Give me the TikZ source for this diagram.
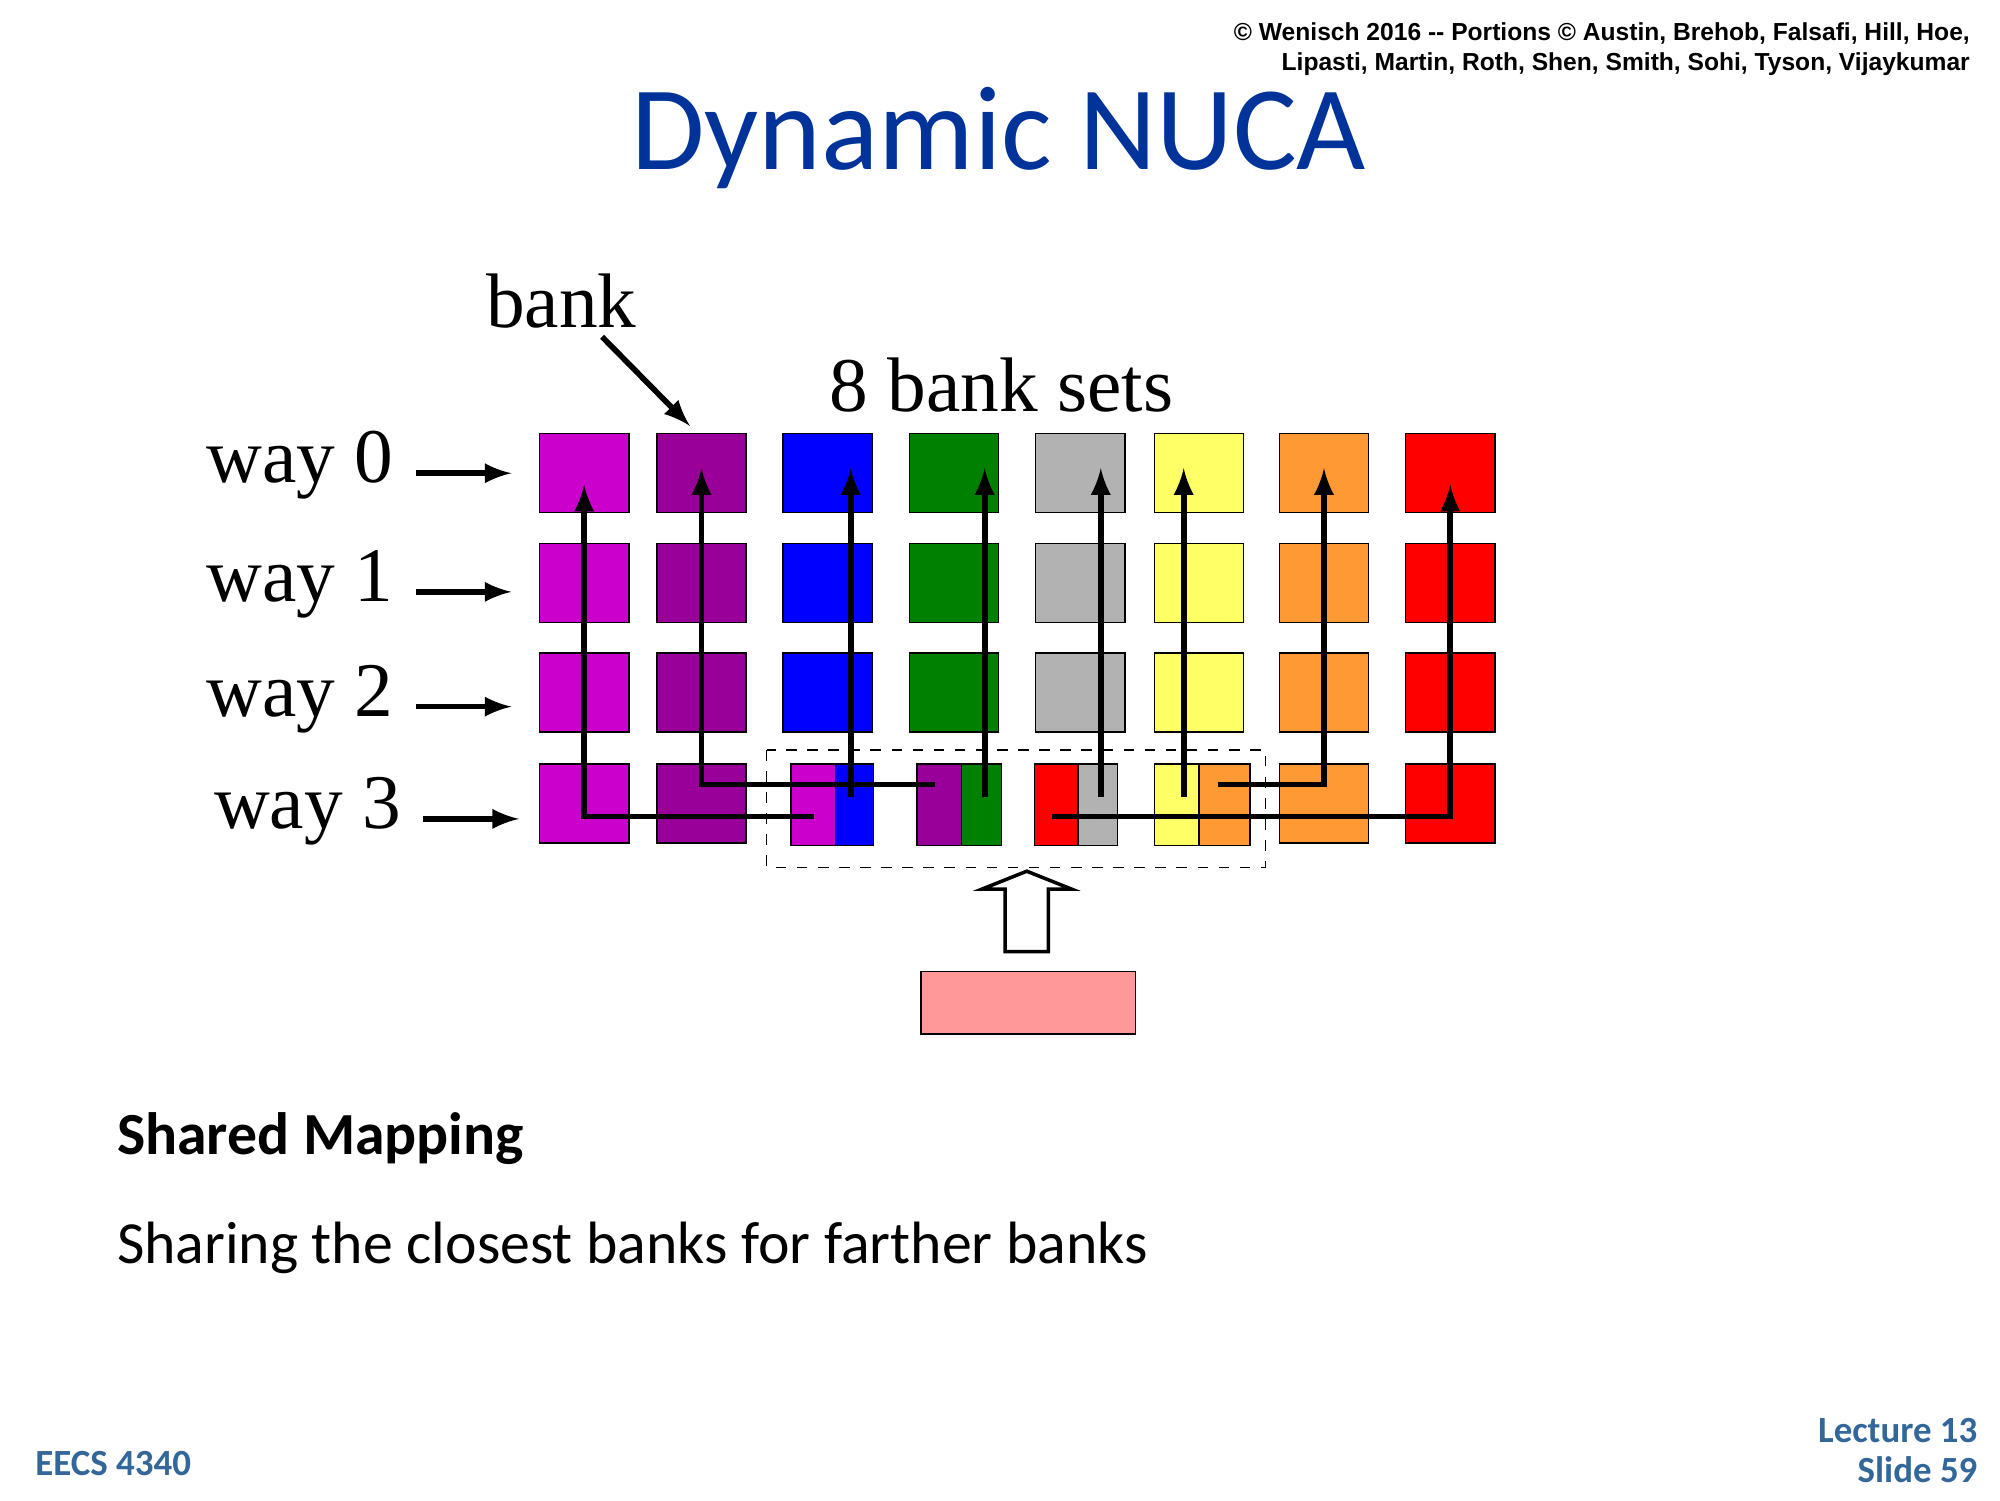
\documentclass[tikz,border=0pt]{standalone}
\usepackage{fontspec}
\setmainfont{Liberation Serif}
\newfontfamily\bodyfont{Carlito}
\newfontfamily\headfont{Liberation Sans}
\usetikzlibrary{positioning}
\definecolor{cMag}{RGB}{204,0,204}
\definecolor{cPur}{RGB}{153,0,153}
\definecolor{cBlu}{RGB}{0,0,255}
\definecolor{cGrn}{RGB}{0,128,0}
\definecolor{cGry}{RGB}{178,178,178}
\definecolor{cYel}{RGB}{255,255,102}
\definecolor{cOrg}{RGB}{255,153,51}
\definecolor{cRed}{RGB}{255,0,0}
\definecolor{cPink}{RGB}{255,153,153}
\definecolor{cTitle}{RGB}{0,51,153}
\definecolor{cFoot}{RGB}{51,102,153}
\tikzset{
  bank/.style={draw=black, fill=#1, minimum width=70*0.12755mm, minimum height=62*0.12755mm, inner sep=0pt},
  half/.style={draw=black, fill=#1, inner sep=0pt},
  wire/.style={line width=1.6pt},
  wirearrow/.style={line width=1.6pt, -latex},
  waylabel/.style={font=\fontsize{22}{24}\selectfont, anchor=east}
}
\begin{document}
\begin{tikzpicture}[x=0.12755mm,y=-0.12755mm]
\useasboundingbox (0,0) rectangle (1568,1176);
% header and title
\node[anchor=north east, align=right, font=\headfont\bfseries\fontsize{7}{8.5}\selectfont] (hdr) at (1554,8)
  {© Wenisch 2016 -- Portions © Austin, Brehob, Falsafi, Hill, Hoe,\\Lipasti, Martin, Roth, Shen, Smith, Sohi, Tyson, Vijaykumar};
\node[text=cTitle, font=\bodyfont\fontsize{34}{36}\selectfont] (title) at (783,108) {Dynamic NUCA};
% bank grid
\foreach \c/\x/\col in {0/458/cMag,1/550/cPur,2/649/cBlu,3/748/cGrn,4/847/cGry,5/940/cYel,6/1038/cOrg,7/1137/cRed}{
  \foreach \r/\y in {0/371,1/457,2/543}
    \node[bank=\col] (b-\c-\r) at (\x,\y) {};
}
\node[bank=cMag] (b-0-3) at (458,630) {};
\node[bank=cPur] (b-1-3) at (550,630) {};
\node[bank=cOrg] (b-6-3) at (1038,630) {};
\node[bank=cRed] (b-7-3) at (1137,630) {};
% shared banks
\filldraw[half=cMag] (620,599) rectangle (655,663);
\filldraw[half=cBlu] (655,599) rectangle (685,663);
\filldraw[half=cPur] (719,599) rectangle (754,663);
\filldraw[half=cGrn] (754,599) rectangle (785,663);
\filldraw[half=cRed] (811,599) rectangle (845,663);
\filldraw[half=cGry] (845,599) rectangle (876,663);
\filldraw[half=cYel] (905,599) rectangle (940,663);
\filldraw[half=cOrg] (940,599) rectangle (980,663);
\draw[dashed] (601,588) rectangle (992,680);
% mapping wires
\coordinate (s0) at (638,640);
\coordinate (s1) at (733,615);
\coordinate (s2) at (667,625);
\coordinate (s3) at (772,625);
\coordinate (s4) at (863,625);
\coordinate (s5) at (928,625);
\coordinate (s6) at (955,615);
\coordinate (s7) at (825,640);
\draw[wirearrow] (s0) -| ([yshift=-9*0.12755mm]b-0-0.center);
\draw[wirearrow] (s1) -| ([yshift=4*0.12755mm]b-1-0.center);
\draw[wirearrow] (s2) -- (s2 |- 0,367);
\draw[wirearrow] (s3) -- (s3 |- 0,367);
\draw[wirearrow] (s4) -- (s4 |- 0,367);
\draw[wirearrow] (s5) -- (s5 |- 0,367);
\draw[wirearrow] (s6) -| ([yshift=4*0.12755mm]b-6-0.center);
\draw[wirearrow] (s7) -| ([yshift=-9*0.12755mm]b-7-0.center);
% way labels
\foreach \r/\y/\x in {0/365/318,1/458/318,2/548/318,3/636/324}{
  \node[waylabel] (w\r) at (\x,\y) {way \r};
  \draw[wirearrow] (w\r.east) ++(8,6) coordinate (wa\r) -- ++(75,0) coordinate (wb\r);
}
\node[font=\fontsize{22}{24}\selectfont] (banklbl) at (440,236) {bank};
\coordinate (banktip) at (541,334);
\draw[wirearrow] (472,264) -- (banktip);
\node[font=\fontsize{22}{24}\selectfont] (sets) at (785,302) {8 bank sets};
% core
\node[draw=black, fill=cPink, minimum width=168*0.12755mm, minimum height=49*0.12755mm, inner sep=0pt] (core) at (806,786) {};
\draw[line width=1pt, fill=white] (788,746) -- (788,697) -- (770,697) -- (805,683) -- (840,697) -- (822,697) -- (822,746) -- cycle;
% text
\node[anchor=west, font=\bodyfont\bfseries\fontsize{17}{20}\selectfont] (head) at (82,893) {Shared Mapping};
\node[anchor=west, font=\bodyfont\fontsize{17}{20}\selectfont] (body) at (82,978) {Sharing the closest banks for farther banks};
\node[anchor=west, text=cFoot, font=\bodyfont\bfseries\fontsize{10.5}{12}\selectfont] (course) at (18,1147) {EECS 4340};
\node[anchor=east, align=right, text=cFoot, font=\bodyfont\bfseries\fontsize{10.5}{11.5}\selectfont] (slide) at (1560,1137) {Lecture 13\\Slide 59};
\end{tikzpicture}
\end{document}
